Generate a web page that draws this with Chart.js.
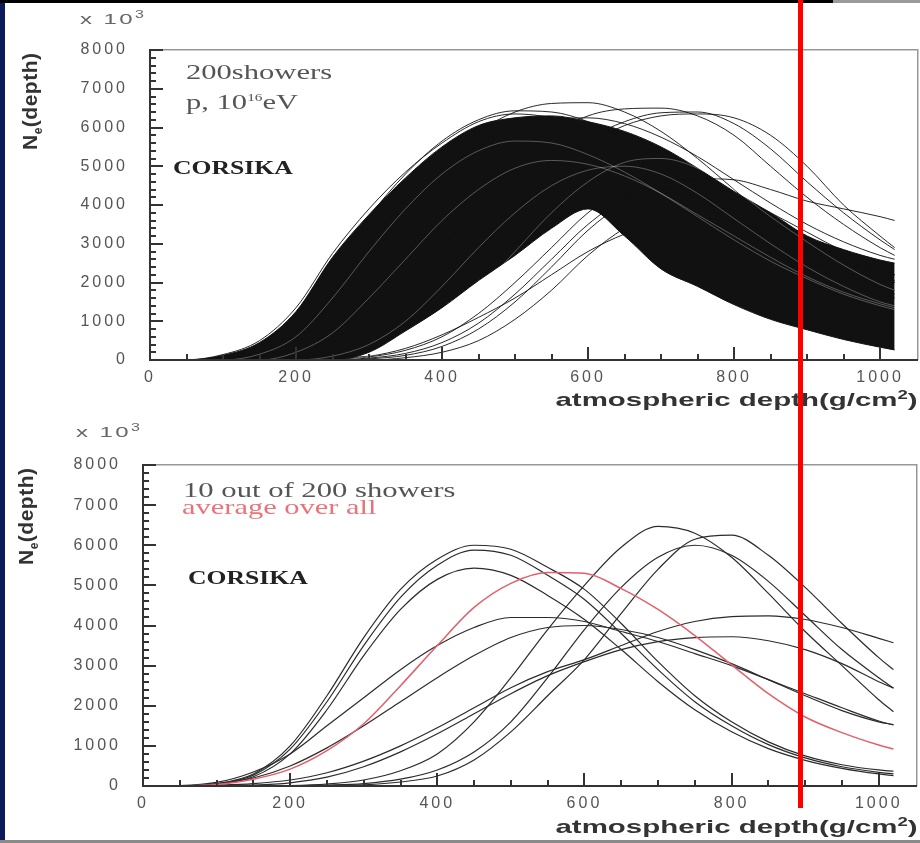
<!DOCTYPE html>
<html>
<head>
<meta charset="utf-8">
<script src="https://cdn.jsdelivr.net/npm/chart.js@4.4.1/dist/chart.umd.min.js"></script>
<style>
  html, body { margin: 0; padding: 0; }
  body { width: 920px; height: 843px; position: relative; overflow: hidden; background: #fff; font-family: "Liberation Sans", Arial, sans-serif; }
  .edgeL { position: absolute; left: 0; top: 0; width: 5px; height: 843px; background: #0c1a5a; }
  .edgeT { position: absolute; left: 0; top: 0; width: 833px; height: 3px; background: #000; }
  .edgeT2 { position: absolute; left: 833px; top: 0; width: 87px; height: 3px; background: #9a9a9a; }
  .edgeB { position: absolute; left: 0; top: 840px; width: 920px; height: 3px; background: #8a8a8a; }
  .wrap { position: absolute; left: 0; }
  .t { position: absolute; white-space: nowrap; line-height: 1; transform-origin: 0 0; }
  .serif { font-family: "Liberation Serif", "Times New Roman", serif; }
  .ytitle { position: absolute; white-space: nowrap; line-height: 1; font-weight: bold; font-size: 21px; letter-spacing: 0.5px; color: #333; transform: rotate(-90deg); transform-origin: 0 0; }
  .xtitle { position: absolute; right: 2px; white-space: nowrap; line-height: 1; font-weight: bold; font-size: 19px; color: #333; transform: scaleX(1.55); transform-origin: 100% 0; }
  .exp { position: absolute; white-space: nowrap; line-height: 1; font-size: 15px; letter-spacing: 1.5px; color: #666; transform: scaleX(1.6); transform-origin: 0 0; }
  .redline { position: absolute; left: 798px; top: 0; width: 5px; height: 808px; background: #ff0000; }
</style>
</head>
<body>
<div class="edgeL"></div>
<div class="edgeT"></div>
<div class="edgeT2"></div>
<div class="edgeB"></div>

<div class="wrap" style="top:0"><canvas id="topChart" width="920" height="400"></canvas></div>
<div class="wrap" style="top:420px"><canvas id="bottomChart" width="920" height="420"></canvas></div>

<!-- top panel texts -->
<div class="exp" style="left:80px;top:10px">x 10<sup style="font-size:10px">3</sup></div>
<div class="ytitle" style="left:19px;top:150px">N<sub style="font-size:12px">e</sub>(depth)</div>
<div class="t serif" style="left:186px;top:61px;font-size:22px;color:#555;transform:scaleX(1.39)">200showers</div>
<div class="t serif" style="left:186px;top:91px;font-size:22px;color:#555;transform:scaleX(1.39)">p, 10<sup style="font-size:11px">16</sup>eV</div>
<div class="t serif" style="left:173px;top:158px;font-size:19px;font-weight:bold;color:#222;transform:scaleX(1.35)">CORSIKA</div>
<div class="xtitle" style="top:389px">atmospheric depth(g/cm<sup style="font-size:12px">2</sup>)</div>

<!-- bottom panel texts -->
<div class="exp" style="left:76px;top:423px">x 10<sup style="font-size:10px">3</sup></div>
<div class="ytitle" style="left:15px;top:565px">N<sub style="font-size:12px">e</sub>(depth)</div>
<div class="t serif" style="left:183px;top:480px;font-size:21px;color:#555;transform:scaleX(1.46)">10 out of 200 showers</div>
<div class="t serif" style="left:182px;top:497px;font-size:21px;color:#e8737a;transform:scaleX(1.45)">average over all</div>
<div class="t serif" style="left:188px;top:568px;font-size:19px;font-weight:bold;color:#222;transform:scaleX(1.35)">CORSIKA</div>
<div class="xtitle" style="top:816px">atmospheric depth(g/cm<sup style="font-size:12px">2</sup>)</div>

<div class="redline"></div>

<script>
// ── shower profiles, N_e (x10^3) vs atmospheric depth ──
const depth = [0, 50, 100, 150, 200, 250, 300, 350, 400, 450, 500, 550, 600, 650, 700, 750, 800, 850, 900, 950, 1000, 1020];

const xTickVals = [0, 200, 400, 600, 800, 1000];
const yTickVals = [0, 1000, 2000, 3000, 4000, 5000, 6000, 7000, 8000];
const xMinorStep = 50, yMinorStep = 200;

// top: 200 showers -> dense band edges, outlying curves, light gaps inside the band
const bandUpper = [0, 0, 120, 450, 1250, 2650, 3750, 4700, 5500, 6050, 6250, 6300, 6150, 5900, 5500, 4950, 4350, 3800, 3200, 2850, 2580, 2500];
const bandLower = [0, 0, 0, 0, 0, 0, 200, 750, 1350, 2050, 2700, 3400, 3900, 3200, 2350, 1900, 1430, 1050, 780, 530, 330, 260];

const earlyEdge = [0, 5, 140, 500, 1350, 2750, 3900, 4850, 5600, 6150, 6350, 6250, 5950, 5450, 4850, 4150, 3500, 2900, 2400, 2000, 1700, 1600];
const fringe1 = [0, 0, 40, 200, 700, 1700, 3000, 4200, 5200, 5900, 6400, 6620, 6640, 6400, 5900, 5200, 4400, 3600, 2900, 2300, 1850, 1700];
const fringe2 = [0, 0, 80, 350, 1100, 2400, 3700, 4800, 5650, 6200, 6430, 6400, 6150, 5700, 5100, 4400, 3700, 3100, 2600, 2200, 1900, 1800];
const fringe3 = [0, 0, 0, 20, 100, 350, 900, 1800, 2900, 4000, 5000, 5800, 6300, 6480, 6500, 6300, 5800, 5000, 4200, 3500, 2900, 2700];
const fringe4 = [0, 0, 0, 0, 30, 120, 400, 950, 1800, 2800, 3850, 4800, 5550, 6050, 6300, 6350, 6250, 5800, 5000, 4000, 3200, 2900];
const fringe5 = [0, 0, 0, 20, 100, 300, 650, 1150, 1750, 2400, 3000, 3550, 4000, 4300, 4550, 4680, 4650, 4400, 4100, 3900, 3700, 3600];
const fringe6 = [0, 0, 30, 150, 550, 1400, 2600, 3800, 4800, 5550, 6000, 6200, 6250, 6100, 5750, 5250, 4650, 4050, 3500, 3050, 2700, 2600];
const fringe7 = [0, 0, 0, 0, 50, 200, 600, 1300, 2200, 3200, 4200, 5050, 5700, 6150, 6380, 6400, 6100, 5450, 4600, 3800, 3100, 2850];

const late1 = [0, 0, 0, 0, 0, 20, 80, 250, 600, 1200, 2000, 2900, 3800, 4400, 4650, 4600, 4250, 3750, 3150, 2600, 2150, 2000];
const late2 = [0, 0, 0, 0, 0, 10, 50, 170, 450, 950, 1700, 2600, 3500, 4150, 4450, 4450, 4150, 3650, 3100, 2600, 2150, 2000];
const late3 = [0, 0, 0, 0, 0, 0, 30, 120, 350, 800, 1500, 2400, 3350, 4050, 4450, 4500, 4250, 3800, 3300, 2800, 2350, 2200];
const late4 = [0, 0, 0, 0, 0, 0, 0, 60, 200, 500, 1050, 1800, 2700, 3400, 3850, 4000, 3850, 3500, 3050, 2600, 2200, 2050];
const late5 = [0, 0, 0, 0, 20, 60, 100, 300, 650, 1100, 1600, 2200, 2800, 3250, 3550, 3650, 3550, 3300, 2950, 2600, 2300, 2200];

const gap1 = [0, 0, 0, 150, 600, 1600, 2800, 3900, 4800, 5400, 5650, 5600, 5300, 4850, 4300, 3700, 3100, 2550, 2100, 1700, 1400, 1300];
const gap2 = [0, 0, 0, 0, 200, 700, 1600, 2600, 3600, 4400, 4950, 5150, 5050, 4750, 4300, 3750, 3200, 2650, 2150, 1750, 1450, 1350];
const gap3 = [0, 0, 0, 0, 0, 100, 400, 1000, 1900, 2900, 3800, 4500, 4900, 5000, 4800, 4300, 3650, 3000, 2400, 1900, 1500, 1400];
const gap4 = [0, 0, 0, 0, 0, 0, 100, 400, 1000, 1800, 2800, 3800, 4600, 5100, 5200, 4950, 4400, 3700, 3050, 2450, 1950, 1800];

// bottom: 10 out of 200 showers + average over all
const showerA1 = [0, 0, 60, 300, 1000, 2250, 3700, 4900, 5650, 6000, 5900, 5450, 4900, 4050, 3100, 2250, 1600, 1100, 750, 530, 400, 370];
const showerA2 = [0, 0, 50, 270, 920, 2100, 3500, 4700, 5500, 5880, 5750, 5250, 4650, 3800, 2900, 2100, 1500, 1030, 700, 480, 340, 300];
const showerA3 = [0, 0, 40, 230, 800, 1900, 3250, 4400, 5150, 5430, 5250, 4750, 4150, 3400, 2600, 1900, 1350, 930, 640, 440, 300, 260];
const showerD1 = [0, 10, 90, 350, 800, 1500, 2200, 2900, 3500, 3950, 4200, 4200, 4100, 3850, 3600, 3300, 3000, 2650, 2300, 1950, 1620, 1520];
const showerD2 = [0, 5, 50, 200, 500, 950, 1500, 2100, 2700, 3250, 3700, 3950, 4000, 3900, 3700, 3400, 3050, 2650, 2250, 1880, 1600, 1530];
const showerC1 = [0, 0, 20, 60, 150, 330, 620, 1000, 1450, 1950, 2450, 2850, 3150, 3500, 3850, 4100, 4220, 4240, 4150, 3950, 3680, 3570];
const showerC2 = [0, 0, 0, 20, 80, 220, 480, 850, 1300, 1800, 2300, 2750, 3100, 3400, 3600, 3700, 3720, 3620, 3400, 3050, 2600, 2440];
const showerB1 = [0, 0, 0, 0, 10, 50, 150, 380, 800, 1600, 2700, 3900, 5000, 5950, 6470, 6300, 5700, 4800, 3850, 3000, 2150, 1850];
const showerB2 = [0, 0, 0, 0, 0, 10, 30, 100, 250, 650, 1350, 2250, 3150, 4300, 5400, 6150, 6250, 5750, 4950, 4050, 3200, 2900];
const showerB3 = [0, 0, 0, 0, 0, 20, 60, 170, 400, 850, 1600, 2700, 3900, 4950, 5700, 6000, 5750, 5100, 4250, 3400, 2700, 2440];
const average = [0, 5, 40, 170, 420, 880, 1550, 2500, 3500, 4450, 5050, 5320, 5300, 4920, 4400, 3750, 3020, 2300, 1720, 1330, 1020, 920];

function line(vals, color, width, extra) {
  return Object.assign({
    data: depth.map((d, i) => ({ x: d, y: vals[i] })),
    borderColor: color,
    borderWidth: width,
    pointRadius: 0,
    fill: false,
    cubicInterpolationMode: 'monotone'
  }, extra || {});
}

// frame around the plot + ROOT-style inward ticks
const frameTicks = {
  id: 'frameTicks',
  beforeDraw(chart) {
    chart.ctx.letterSpacing = '3px';   // the scanned labels are wide
  },
  afterDraw(chart) {
    const ctx = chart.ctx, a = chart.chartArea;
    const xs = chart.scales.x, ys = chart.scales.y;
    const w = a.right - a.left, h = a.bottom - a.top;
    ctx.save();
    ctx.fillStyle = '#979797';
    ctx.fillRect(a.left, a.top - 1, w, 1.5);
    ctx.fillRect(a.right - 1, a.top - 1, 1.5, h + 1);
    ctx.fillStyle = '#333';
    ctx.fillRect(a.left - 1, a.top - 1, 2, h + 2);
    ctx.fillRect(a.left - 1, a.bottom - 1, w + 1, 2);
    for (let v = 0; v <= xTickVals[xTickVals.length - 1]; v += xMinorStep) {
      const px = Math.round(xs.getPixelForValue(v));
      const len = xTickVals.includes(v) ? 13 : 6;
      ctx.fillRect(px - 1, a.bottom - len, 2, len);
    }
    for (let v = 0; v <= yTickVals[yTickVals.length - 1]; v += yMinorStep) {
      const py = Math.round(ys.getPixelForValue(v));
      const len = yTickVals.includes(v) ? 13 : 6;
      ctx.fillRect(a.left, py - 1, len, 2);
    }
    ctx.restore();
  }
};

function makeChart(id, datasets, yWidth, xHeight, padTop, padRight) {
  return new Chart(document.getElementById(id), {
    type: 'line',
    data: { datasets },
    plugins: [frameTicks],
    options: {
      responsive: false,
      animation: false,
      layout: { padding: { top: padTop, right: padRight, left: 0, bottom: 0 } },
      plugins: { legend: { display: false }, tooltip: { enabled: false } },
      scales: {
        x: {
          type: 'linear', min: 0, max: 1052,
          grid: { display: false, drawTicks: false },
          border: { display: false },
          afterBuildTicks: s => { s.ticks = xTickVals.map(v => ({ value: v })); },
          afterFit: s => { s.height = xHeight; },
          ticks: { color: '#555', padding: 8, maxRotation: 0, callback: v => String(v), font: { family: 'Liberation Sans', size: 16 } }
        },
        y: {
          type: 'linear', min: 0, max: 8000,
          grid: { display: false, drawTicks: false },
          border: { display: false },
          afterBuildTicks: s => { s.ticks = yTickVals.map(v => ({ value: v })); },
          afterFit: s => { s.width = yWidth; },
          ticks: { color: '#555', padding: 22, callback: v => String(v), font: { family: 'Liberation Sans', size: 16 } }
        }
      }
    }
  });
}

const ink = '#111';
const gapColor = 'rgba(255,255,255,0.38)';
const topSets = [
  line(gap1, gapColor, 0.8), line(gap2, gapColor, 0.8), line(gap3, gapColor, 0.8), line(gap4, gapColor, 0.8),
  line(earlyEdge, ink, 0.9), line(fringe1, ink, 0.9), line(fringe2, ink, 0.9), line(fringe3, ink, 0.9),
  line(fringe4, ink, 0.9), line(fringe5, ink, 0.9), line(fringe6, ink, 0.9), line(fringe7, ink, 0.9),
  line(late1, ink, 0.9), line(late2, ink, 0.9), line(late3, ink, 0.9), line(late4, ink, 0.9), line(late5, ink, 0.9),
  line(bandUpper, ink, 1),
  line(bandLower, ink, 1, { fill: '-1', backgroundColor: ink })
];

const curve = '#2b2b2b';
const bottomSets = [
  line(average, '#e2606a', 1.5),
  line(showerA1, curve, 1.2), line(showerA2, curve, 1.2), line(showerA3, curve, 1.2),
  line(showerD1, curve, 1.2), line(showerD2, curve, 1.2),
  line(showerC1, curve, 1.2), line(showerC2, curve, 1.2),
  line(showerB1, curve, 1.2), line(showerB2, curve, 1.2), line(showerB3, curve, 1.2)
];

makeChart('topChart', topSets, 150, 40, 50, 2);
makeChart('bottomChart', bottomSets, 143, 54, 45, 3);
</script>
</body>
</html>
